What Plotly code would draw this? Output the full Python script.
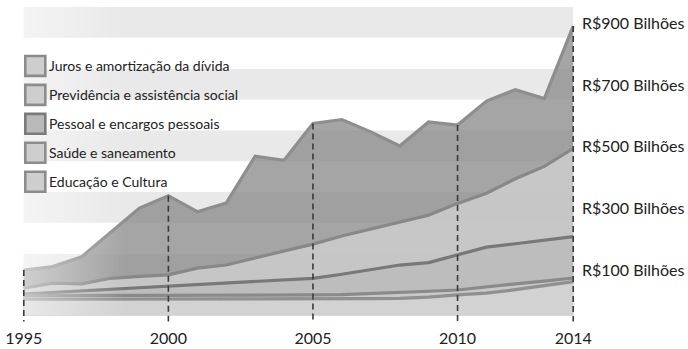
import plotly.graph_objects as go

# Federal spending by function, in R$ billions
years = list(range(1995, 2015))

juros = [97, 108, 140, 220, 298, 338, 286, 314, 466, 453,
         572, 585, 545, 499, 577, 567, 645, 682, 653, 888]
previdencia = [38, 54, 52, 70, 76, 81, 103, 113, 136, 159,
               181, 207, 230, 254, 275, 313, 346, 393, 433, 491]
pessoal = [19, 24, 28, 33, 38, 44, 49, 54, 58, 64,
           70, 83, 98, 113, 121, 146, 171, 182, 194, 205]
saude = [14, 14, 14, 15, 15, 15, 15, 15, 16, 16,
         16, 17, 20, 24, 28, 32, 43, 52, 61, 71]
educacao = [2, 2, 2, 2, 2, 2, 2, 3, 3, 3,
            3, 4, 4, 5, 9, 16, 22, 33, 46, 59]

series_names = ["Juros e amortização da dívida",
                "Previdência e assistência social",
                "Pessoal e encargos pessoais",
                "Saúde e saneamento",
                "Educação e Cultura"]
series_values = [juros, previdencia, pessoal, saude, educacao]

year_ticks = [1995, 2000, 2005, 2010, 2014]
value_labels = [900, 700, 500, 300, 100]
value_texts = ["R$900 Bilhões", "R$700 Bilhões", "R$500 Bilhões",
               "R$300 Bilhões", "R$100 Bilhões"]

# styling
FONT = "Lato, Roboto, sans-serif"
fill_colors = ["rgba(140,140,140,0.78)", "rgba(207,207,207,0.8)",
               "rgba(186,186,186,0.8)", "rgba(202,202,202,0.8)",
               "rgba(212,212,212,0.8)"]
line_colors = ["#8e8e8e", "#888888", "#787878", "#8a8a8a", "#909090"]
legend_fill = ["#cecece", "#cecece", "#b9b9b9", "#cecece", "#cecece"]
legend_line = ["#8c8c8c", "#8c8c8c", "#7a7a7a", "#8c8c8c", "#8c8c8c"]

BAND_LO, BAND_HI, BAND_STEP = -50, 950, 100
Y_MIN, Y_MAX = -75, 950
DROP_FLOOR = -70
X_MIN, X_MAX = 1994.8, 2014.2
FADE_END = 1998.5   # width of the soft white fade on the left edge

W, H = 688, 349
M_L, M_T = 18.2, 7
PLOT_W = (X_MAX - X_MIN) * 28.9
PLOT_H = (Y_MAX - Y_MIN) * 0.30875
M_R = W - M_L - PLOT_W
M_B = H - M_T - PLOT_H

fig = go.Figure()

# areas, each filled down to the floor of the banded background
for name, vals, fc, lc in zip(series_names, series_values, fill_colors, line_colors):
    fig.add_trace(go.Scatter(x=years, y=[BAND_LO] * len(years), mode="lines",
                             line=dict(width=0), showlegend=False, hoverinfo="skip"))
    fig.add_trace(go.Scatter(x=years, y=vals, mode="lines", name=name,
                             fill="tonexty", fillcolor=fc,
                             line=dict(color=lc, width=3.2), showlegend=False))

# soft white fade over the left edge of the plot
fig.add_trace(go.Scatter(
    x=[years[0], FADE_END, FADE_END, years[0]],
    y=[BAND_LO, BAND_LO, BAND_HI, BAND_HI],
    mode="lines", line=dict(width=0), fill="toself",
    fillgradient=dict(type="horizontal",
                      colorscale=[[0, "rgba(255,255,255,0.5)"],
                                  [1, "rgba(255,255,255,0)"]]),
    showlegend=False, hoverinfo="skip"))

# dashed drop lines from the debt curve at the labelled years
for yr in year_ticks:
    v = juros[years.index(yr)]
    fig.add_trace(go.Scatter(x=[yr, yr], y=[v, DROP_FLOOR], mode="lines",
                             line=dict(color="#3a3a3a", width=1.6, dash="6px,4px"),
                             showlegend=False, hoverinfo="skip"))

# alternating horizontal bands
shapes = []
for i, lo in enumerate(range(BAND_LO, BAND_HI, BAND_STEP)):
    color = "#ffffff" if i % 2 == 0 else "#e9e9e9"
    shapes.append(dict(type="rect", xref="x", yref="y", x0=years[0], x1=years[-1],
                       y0=lo, y1=lo + BAND_STEP, fillcolor=color,
                       line=dict(width=0), layer="below"))


def px_to_paper(px, py):
    return (px - M_L) / PLOT_W, 1 - (py - M_T) / PLOT_H


annotations = []
# hand-built legend with square swatches
for i, name in enumerate(series_names):
    cy = 66 + 29 * i
    x0, y0 = px_to_paper(25.5, cy - 10)
    x1, y1 = px_to_paper(45.5, cy + 10)
    shapes.append(dict(type="rect", xref="paper", yref="paper",
                       x0=x0, x1=x1, y0=y1, y1=y0,
                       fillcolor=legend_fill[i],
                       line=dict(color=legend_line[i], width=2.6)))
    tx, ty = px_to_paper(47.5, cy)
    annotations.append(dict(xref="paper", yref="paper", x=tx, y=ty,
                            text=name, showarrow=False, xanchor="left",
                            yanchor="middle",
                            font=dict(family=FONT, size=14, color="#222222")))

# value labels on the right
for v, t in zip(value_labels, value_texts):
    annotations.append(dict(xref="x", yref="y", x=years[-1], y=v, xshift=7,
                            text=t, showarrow=False, xanchor="left",
                            yanchor="middle",
                            font=dict(family=FONT, size=16, color="#222222")))

fig.update_layout(
    width=W, height=H,
    margin=dict(l=M_L, r=M_R, t=M_T, b=M_B, pad=0, autoexpand=False),
    paper_bgcolor="white", plot_bgcolor="white",
    shapes=shapes, annotations=annotations,
    showlegend=False,
    font=dict(family=FONT, color="#222222"),
    xaxis=dict(range=[X_MIN, X_MAX], tickvals=year_ticks,
               ticktext=[str(y) for y in year_ticks],
               showgrid=False, zeroline=False, showline=False, automargin=False,
               ticks="outside", ticklen=1, tickcolor="rgba(0,0,0,0)",
               tickfont=dict(family=FONT, size=16, color="#222222")),
    yaxis=dict(range=[Y_MIN, Y_MAX], showgrid=False, zeroline=False,
               showline=False, showticklabels=False, ticks="", automargin=False),
)

fig.write_html("out.html")
